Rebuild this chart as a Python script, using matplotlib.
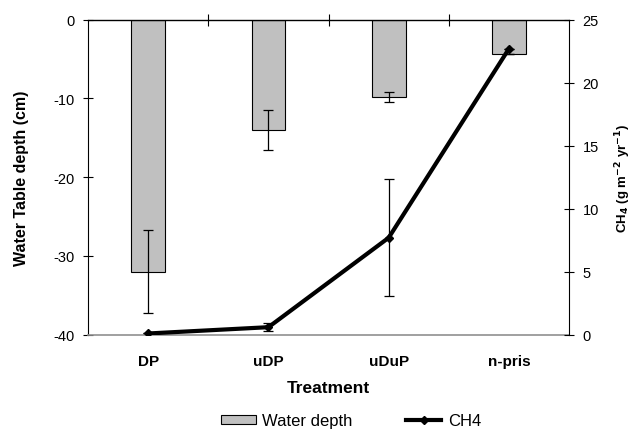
import matplotlib
matplotlib.use("Agg")
import matplotlib.pyplot as plt
import numpy as np

plt.rcParams['font.family'] = ['Liberation Sans', 'DejaVu Sans']
plt.rcParams['axes.unicode_minus'] = False

treatments = ["DP", "uDP", "uDuP", "n-pris"]
water_depth = [-32.0, -14.0, -9.8, -4.3]
water_err = [5.3, 2.5, 0.65, 0.0]
ch4 = [0.1, 0.6, 7.7, 22.7]
ch4_err = [0.0, 0.3, 4.65, 0.0]

fig = plt.figure(figsize=(6.38, 4.31), dpi=100)
ax = fig.add_axes([0.138, 0.221, 0.754, 0.731])
x = np.arange(len(treatments))

bars = ax.bar(x, water_depth, width=0.28, color="#C0C0C0", edgecolor="black",
              linewidth=0.8, label="Water depth", zorder=2)
ax.errorbar(x, water_depth, yerr=water_err, fmt="none", ecolor="black",
            elinewidth=0.9, capsize=3.5, capthick=0.9, zorder=3)
ax.set_xlim(-0.5, 3.5)
ax.set_ylim(-40, 0)
ax.set_yticks([-40, -30, -20, -10, 0])
ax.set_xticks(x)
ax.set_xticklabels(treatments, fontweight="bold", fontsize=11)
ax.tick_params(axis="x", length=0, pad=14)
ax.tick_params(axis="y", direction="inout", length=7.5, width=0.8, labelsize=10.5, pad=6)
ax.spines["left"].set_color("black")
ax.spines["bottom"].set_color("#909090")
ax.spines["bottom"].set_linewidth(1.2)
ax.spines["right"].set_visible(False)
ax.spines["top"].set_color("black")
ax.spines["top"].set_linewidth(1.0)
ax.set_ylabel("Water Table depth (cm)", fontweight="bold", fontsize=11.5)
ax.yaxis.set_label_coords(-0.139, 0.5)
ax.yaxis.label.set_va("center")
ax.set_xlabel("Treatment", fontweight="bold", fontsize=12.5)
ax.xaxis.set_label_coords(0.5, -0.166)
ax.xaxis.label.set_va("center")

sec = ax.secondary_xaxis("top")
sec.set_xticks([0.5, 1.5, 2.5])
sec.set_xticklabels([])
sec.tick_params(direction="inout", length=8, width=0.8)
sec.spines["top"].set_visible(False)

ax2 = ax.twinx()
line, = ax2.plot(x, ch4, color="black", linewidth=3, marker="D", markersize=4,
                 label="CH4", zorder=4)
ax2.errorbar(x, ch4, yerr=ch4_err, fmt="none", ecolor="black",
             elinewidth=0.9, capsize=3.5, capthick=0.9, zorder=3)
ax2.set_ylim(0, 25)
ax2.set_yticks([0, 5, 10, 15, 20, 25])
ax2.tick_params(axis="y", direction="inout", length=7.5, width=0.8, labelsize=10.5, pad=6)
for s in ["left", "top", "bottom"]:
    ax2.spines[s].set_visible(False)
ax2.spines["right"].set_color("black")
ax2.set_ylabel("CH$_\\mathbf{4}$ (g m$^{\\mathbf{-2}}$ yr$^{\\mathbf{-1}}$)", fontweight="bold",
               fontsize=9.5)
ax2.yaxis.set_label_coords(1.113, 0.5)
ax2.yaxis.label.set_va("center")

fig.legend(handles=[bars, line], labels=["Water depth", "CH4"], loc="center",
           bbox_to_anchor=(0.55, 0.021), ncol=2, frameon=False, fontsize=12,
           handlelength=2.1, handleheight=0.5, columnspacing=3.2, handletextpad=0.4,
           borderpad=0, borderaxespad=0)

fig.savefig("out.png", dpi=100)
